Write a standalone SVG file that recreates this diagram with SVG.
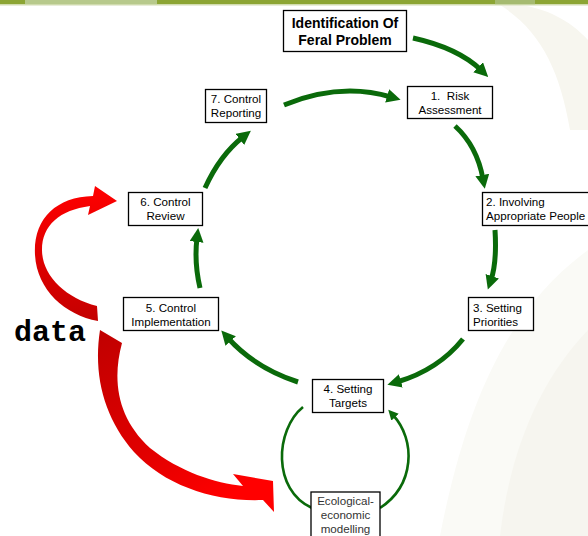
<svg xmlns="http://www.w3.org/2000/svg" width="588" height="536" viewBox="0 0 588 536">
<style>
.box{fill:#fff;stroke:#000;stroke-width:1.3}
.t{font-family:"Liberation Sans",Arial,sans-serif;font-size:11.6px;fill:#000}
.c{text-anchor:middle}
.b{font-weight:bold;font-size:14px}
.g{fill:none;stroke:#0a6a0a;stroke-width:5}
.thin{fill:none;stroke:#0a6a0a;stroke-width:2.6}
</style>
<defs>
<marker id="ah" markerUnits="userSpaceOnUse" markerWidth="16" markerHeight="16" refX="4" refY="7" orient="auto">
<path d="M0,0 L14,7 L0,14 z" fill="#0a6a0a"/>
</marker>
<marker id="ahs" markerUnits="userSpaceOnUse" markerWidth="12" markerHeight="12" refX="3" refY="5" orient="auto">
<path d="M0,0 L10,5 L0,10 z" fill="#0a6a0a"/>
</marker>
<linearGradient id="r1" x1="0" y1="1" x2="0" y2="0">
<stop offset="0" stop-color="#c40000"/>
<stop offset="1" stop-color="#ff0000"/>
</linearGradient>
<linearGradient id="r2" x1="0" y1="0" x2="0.6" y2="1">
<stop offset="0" stop-color="#c00000"/>
<stop offset="0.6" stop-color="#e00000"/>
<stop offset="1" stop-color="#ff0000"/>
</linearGradient>
</defs>
<rect width="588" height="536" fill="#fff"/>
<g id="background">
<path d="M500,5 C540,30 560,70 570,130 L588,130 L588,40 C570,20 545,8 520,5 Z" fill="#f7f6ef"/>
<path d="M588,250 C520,300 470,380 440,536 L588,536 Z" fill="#fafaf6"/>
<path d="M588,330 C540,380 510,450 500,536 L588,536 Z" fill="#f6f5ef"/>
<rect x="0" y="0" width="588" height="4.5" fill="#8ca534"/>
<rect x="25" y="0" width="132" height="4.5" fill="#b7c98c"/>
<rect x="495" y="0" width="40" height="4.5" fill="#a5ba70"/>
<rect x="0" y="4.5" width="588" height="1.2" fill="#dfe6c8"/>
</g>
<g id="connectors">
<path class="g" d="M413,38 Q458,48 481,70" marker-end="url(#ah)"/>
<path class="g" d="M455,126 Q477,146 483,179" marker-end="url(#ah)"/>
<path class="g" d="M495,230 Q497,262 491,280" marker-end="url(#ah)"/>
<path class="g" d="M463,339 Q438,370 397,382" marker-end="url(#ah)"/>
<path class="g" d="M298,382 Q255,368 228,338" marker-end="url(#ah)"/>
<path class="g" d="M200,288 Q194,262 197,238" marker-end="url(#ah)"/>
<path class="g" d="M205,188 Q220,155 243,137" marker-end="url(#ah)"/>
<path class="g" d="M284,105 Q340,82 391,97" marker-end="url(#ah)"/>
<path class="thin" d="M303,407 C275,430 272,490 312,508"/>
<path class="thin" d="M380,508 C415,485 416,440 393,415" marker-end="url(#ahs)"/>
<path id="red1" fill="url(#r1)" d="M97,306 C65,298 42,275 42,250 C42,225 60,210 90,206 L88,215 L117,201 L95,186 L93,196 C55,197 33,220 35,255 C37,290 65,315 98,321 Z"/>
<path id="red2" fill="url(#r2)" d="M100,330 L122,343 C112,380 117,418 150,448 C180,472 215,483 243,486 L233,474 L273,481 L274,512 L263,500 C215,502 165,486 134,452 C104,418 93,375 100,330 Z"/>
</g>
<g id="n0"><rect class="box" x="283.5" y="10.5" width="123" height="41"/>
<text class="t c b" x="345" y="28">Identification Of</text><text class="t c b" x="345" y="45">Feral Problem</text></g>
<g id="n1"><rect class="box" x="407.5" y="86.5" width="85" height="32"/>
<text class="t c" x="450" y="100" xml:space="preserve">1.  Risk</text><text class="t c" x="450" y="114">Assessment</text></g>
<g id="n2"><rect class="box" x="482.5" y="192.5" width="110" height="33"/>
<text class="t" x="486" y="206">2. Involving</text><text class="t" x="486" y="220">Appropriate People</text></g>
<g id="n3"><rect class="box" x="468.5" y="297.5" width="65" height="33"/>
<text class="t" x="473" y="312">3. Setting</text><text class="t" x="473" y="326">Priorities</text></g>
<g id="n4"><rect class="box" x="312.5" y="379.5" width="71" height="33"/>
<text class="t c" x="348" y="393">4. Setting</text><text class="t c" x="348" y="407">Targets</text></g>
<g id="n5"><rect class="box" x="123.5" y="297.5" width="95" height="33"/>
<text class="t c" x="171" y="312">5. Control</text><text class="t c" x="171" y="326">Implementation</text></g>
<g id="n6"><rect class="box" x="128.5" y="192.5" width="74" height="33"/>
<text class="t c" x="165.5" y="206">6. Control</text><text class="t c" x="165.5" y="220">Review</text></g>
<g id="n7"><rect class="box" x="205.5" y="89.5" width="61" height="33"/>
<text class="t c" x="236" y="103">7. Control</text><text class="t c" x="236" y="117">Reporting</text></g>
<g id="n8"><rect class="box" x="311" y="492" width="69" height="50"/>
<text class="t c" style="fill:#333" x="345.5" y="505">Ecological-</text><text class="t c" style="fill:#333" x="345.5" y="519">economic</text><text class="t c" style="fill:#333" x="345.5" y="533">modelling</text></g>
<g id="data"><text x="14" y="341" style="font-family:'Liberation Mono','Courier New',monospace;font-weight:bold;font-size:30px;fill:#000">data</text></g>
</svg>
